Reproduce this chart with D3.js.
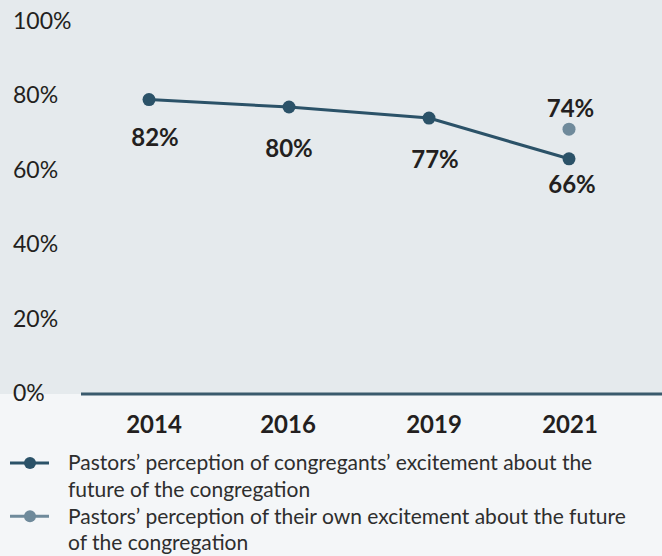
<!DOCTYPE html>
<html>
<head>
<meta charset="utf-8">
<script src="https://cdn.jsdelivr.net/npm/d3@7"></script>
<style>
  html, body { margin: 0; padding: 0; background: #f4f6f8; }
  svg { display: block; font-family: Lato, "Open Sans", sans-serif; }
</style>
</head>
<body>
<svg id="chart" width="662" height="556"></svg>
<script>
// Survey years and share of pastors (percent)
const years = ["2014", "2016", "2019", "2021"];
const congregantsExcitement = [82, 80, 77, 66];
const ownExcitementYears = ["2021"];
const ownExcitement = [74];
const yTicks = [0, 20, 40, 60, 80, 100];
const legendLabels = [
  ["Pastors\u2019 perception of congregants\u2019 excitement about the", "future of the congregation"],
  ["Pastors\u2019 perception of their own excitement about the future", "of the congregation"]
];

const W = 662, H = 556;
const darkBlue = "#2b5268";
const greyBlue = "#6f8a9b";
const textColor = "#231f20";
const legendTextColor = "#2e2e2e";

const svg = d3.select("#chart");

// Plot area geometry
const baselineY = 394;
const x = d3.scalePoint().domain(years).range([149, 569]);
const y = d3.scaleLinear().domain([0, 100]).range([403, 33]);

// Panel backgrounds
svg.append("rect").attr("x", 0).attr("y", 0).attr("width", W).attr("height", baselineY)
  .attr("fill", "#e5eaed");
svg.append("rect").attr("x", 0).attr("y", baselineY).attr("width", W).attr("height", H - baselineY)
  .attr("fill", "#f4f6f8");

// y tick labels
svg.append("g").selectAll("text").data(yTicks).join("text")
  .attr("x", 13)
  .attr("y", d => y(d) - 10 - d * 0.02)
  .attr("dy", "0.35em")
  .attr("fill", textColor)
  .style("font-size", "23px")
  .text(d => d + "%");

// Baseline
svg.append("line")
  .attr("x1", 81).attr("x2", W)
  .attr("y1", baselineY).attr("y2", baselineY)
  .attr("stroke", "#3a5a6d").attr("stroke-width", 3);

// x axis year labels
const yearLabelDx = [5, -1, 5, 1];
svg.append("g").selectAll("text").data(years).join("text")
  .attr("x", (d, i) => x(d) + yearLabelDx[i])
  .attr("y", 433)
  .attr("text-anchor", "middle")
  .attr("fill", textColor)
  .style("font-size", "24px")
  .style("font-weight", 700)
  .text(d => d);

// Congregants' excitement line
const series = years.map((yr, i) => ({ year: yr, value: congregantsExcitement[i] }));
svg.append("path")
  .datum(series)
  .attr("fill", "none")
  .attr("stroke", darkBlue)
  .attr("stroke-width", 3)
  .attr("d", d3.line().x(d => x(d.year)).y(d => y(d.value)));

svg.append("g").selectAll("circle").data(series).join("circle")
  .attr("cx", d => x(d.year)).attr("cy", d => y(d.value)).attr("r", 6.5)
  .attr("fill", darkBlue);

// Pastors' own excitement point
const own = ownExcitementYears.map((yr, i) => ({ year: yr, value: ownExcitement[i] }));
svg.append("g").selectAll("circle").data(own).join("circle")
  .attr("cx", d => x(d.year)).attr("cy", d => y(d.value)).attr("r", 6.5)
  .attr("fill", greyBlue);

// Value labels (offsets keep them clear of the line)
const seriesLabelDy = [46, 50, 50, 34];
const seriesLabelDx = [6, 0, 6, 3];
svg.append("g").selectAll("text").data(series).join("text")
  .attr("x", (d, i) => x(d.year) + seriesLabelDx[i])
  .attr("y", (d, i) => y(d.value) + seriesLabelDy[i])
  .attr("text-anchor", "middle")
  .attr("fill", textColor)
  .style("font-size", "24px")
  .style("font-weight", 700)
  .text(d => d.value + "%");

svg.append("g").selectAll("text").data(own).join("text")
  .attr("x", d => x(d.year) + 1.5)
  .attr("y", d => y(d.value) - 12)
  .attr("text-anchor", "middle")
  .attr("fill", textColor)
  .style("font-size", "24px")
  .style("font-weight", 700)
  .text(d => d.value + "%");

// Legend
const legendColors = [darkBlue, greyBlue];
const legend = svg.append("g");
legendLabels.forEach((lines, i) => {
  const cy = 463 + i * 53.3;
  legend.append("line")
    .attr("x1", 10).attr("x2", 49).attr("y1", cy).attr("y2", cy)
    .attr("stroke", legendColors[i]).attr("stroke-width", 3);
  legend.append("circle").attr("cx", 30).attr("cy", cy).attr("r", 6)
    .attr("fill", legendColors[i]);
  lines.forEach((t, j) => {
    legend.append("text")
      .attr("x", 68)
      .attr("y", cy + j * 26.7)
      .attr("dy", "0.35em")
      .attr("fill", legendTextColor)
      .style("font-size", "21px")
      .text(t);
  });
});
</script>
</body>
</html>
